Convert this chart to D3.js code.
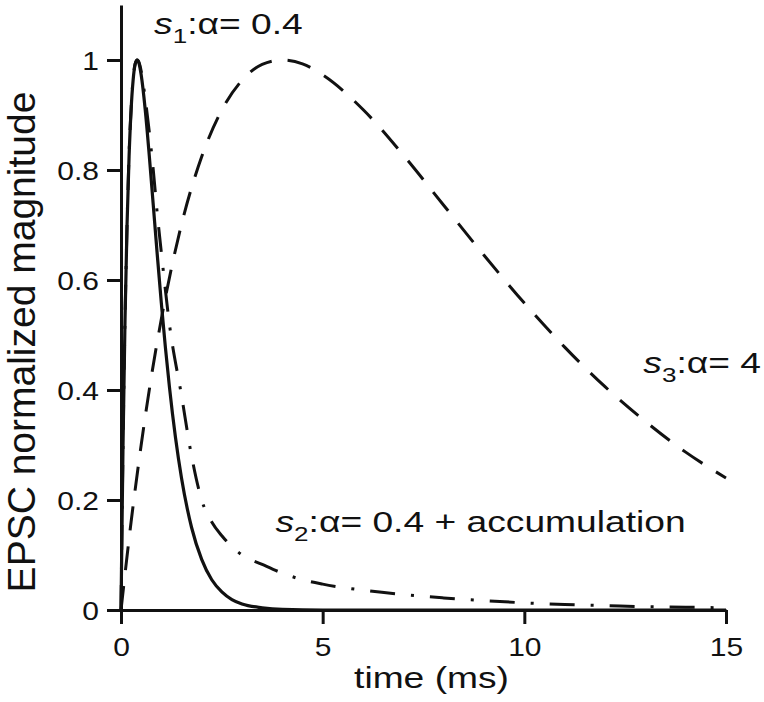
<!DOCTYPE html>
<html><head><meta charset="utf-8">
<script src="https://cdn.jsdelivr.net/npm/d3@7"></script>
<style>body{margin:0;background:#fff}svg{display:block}</style>
</head><body>
<svg id="chart" width="764" height="702"></svg>
<script>
// ---- data ----
const s1Time   = [0,0.05,0.1,0.15,0.2,0.25,0.3,0.35,0.4,0.45,0.5,0.6,0.7,0.8,0.9,1.0,1.1,1.2,1.35,1.5,1.75,2.0,2.25,2.5,2.75,3.0,3.5,4.0,5,6,8,10,12,15];
const s1Values = [0,0.300,0.529,0.701,0.824,0.909,0.963,0.992,1,0.993,0.973,0.910,0.827,0.736,0.645,0.558,0.478,0.406,0.314,0.240,0.150,0.092,0.055,0.033,0.019,0.011,0.004,0.001,0,0,0,0,0,0];

const s2Time   = [0,0.05,0.1,0.15,0.2,0.25,0.3,0.35,0.4,0.45,0.5,0.6,0.7,0.8,0.9,1.0,1.2,1.5,1.75,2.0,2.25,2.5,3.0,3.5,4,4.5,5,6,7,8,9,10,11,12,13,14,15];
const s2Values = [0,0.30,0.53,0.70,0.83,0.91,0.965,0.993,1.0,0.995,0.98,0.93,0.87,0.80,0.72,0.65,0.52,0.39,0.28,0.20,0.16,0.135,0.10,0.083,0.067,0.055,0.047,0.036,0.028,0.022,0.017,0.013,0.010,0.008,0.006,0.005,0.004];

const s3Time   = [0,0.25,0.5,0.75,1,1.5,2,2.5,3,3.5,4,4.5,5,6,7,8,9,10,11,12,13,14,15];
const s3Values = [0,0.160,0.300,0.423,0.529,0.701,0.824,0.909,0.963,0.992,1,0.993,0.973,0.910,0.827,0.736,0.645,0.558,0.478,0.406,0.343,0.287,0.240];

const xTicks = [0,5,10,15];
const xTickLabels = ["0","5","10","15"];
const yTicks = [0,0.2,0.4,0.6,0.8,1];
const yTickLabels = ["0","0.2","0.4","0.6","0.8","1"];

const xTitle = "time (ms)";
const yTitle = "EPSC normalized magnitude";
const labels = [
  {sub:"1", rest:":\u03b1= 0.4", t:0.82, v:1.047},
  {sub:"2", rest:":\u03b1= 0.4 + accumulation", t:3.83, v:0.141},
  {sub:"3", rest:":\u03b1= 4", t:12.95, v:0.431}
];

// ---- drawing ----
const svg = d3.select("#chart");
const FONT = "'Liberation Sans', Arial, Helvetica, sans-serif";
const SX = 1.24;
const x = d3.scaleLinear().domain([0,15]).range([121,726]);
const y = d3.scaleLinear().domain([0,1.1]).range([610,5]);

const ink = "#111";

const xAxis = d3.axisBottom(x).tickValues(xTicks).tickFormat((d,i)=>xTickLabels[i]).tickSize(14).tickSizeOuter(0).tickPadding(0);
const yAxis = d3.axisLeft(y).tickValues(yTicks).tickFormat((d,i)=>yTickLabels[i]).tickSize(14).tickSizeOuter(0).tickPadding(0);

const gx = svg.append("g").attr("transform","translate(0,610)").call(xAxis);
const gy = svg.append("g").attr("transform","translate(121,0)").call(yAxis);

[gx,gy].forEach(g=>{
  g.select(".domain").attr("stroke",ink).attr("stroke-width",3);
  g.selectAll(".tick line").attr("stroke",ink).attr("stroke-width",3);
  g.selectAll(".tick text").attr("fill",ink).style("font-family",FONT).style("font-size","25px");
});
gx.selectAll(".tick text").attr("y",null).attr("dy",null)
  .attr("text-anchor","middle")
  .attr("transform","translate(0,46) scale(1.2,1)");
gy.selectAll(".tick text").attr("x",null).attr("dy",null)
  .attr("text-anchor","end")
  .attr("transform","translate(-22,9) scale(1.2,1)");

const line = d3.line().x(d=>x(d[0])).y(d=>y(d[1])).curve(d3.curveMonotoneX);

svg.append("path").datum(d3.zip(s3Time,s3Values)).attr("d",line)
  .attr("fill","none").attr("stroke",ink).attr("stroke-width",3)
  .attr("stroke-dasharray","24,16");
svg.append("path").datum(d3.zip(s2Time,s2Values)).attr("d",line)
  .attr("fill","none").attr("stroke",ink).attr("stroke-width",3)
  .attr("stroke-dasharray","25,16,3,16");
svg.append("path").datum(d3.zip(s1Time,s1Values)).attr("d",line)
  .attr("fill","none").attr("stroke",ink).attr("stroke-width",3.2);

// titles
svg.append("text").attr("transform",`translate(${(x(0)+x(15))/2+8},688) scale(${SX},1)`)
  .attr("text-anchor","middle").style("font-family",FONT).style("font-size","30px")
  .attr("fill",ink).text(xTitle);
svg.append("text").attr("transform","translate(35,342) rotate(-90)")
  .attr("text-anchor","middle").style("font-family",FONT).style("font-size","39px")
  .attr("fill",ink).text(yTitle);

// curve labels
labels.forEach(l=>{
  const t = svg.append("text")
    .attr("transform",`translate(${x(l.t)},${y(l.v)}) scale(${SX},1)`)
    .style("font-family",FONT).style("font-size","30px").attr("fill",ink);
  t.append("tspan").style("font-style","italic").text("s");
  t.append("tspan").style("font-size","21px").attr("dy",9).text(l.sub);
  t.append("tspan").attr("dy",-9).text(l.rest);
});
</script>
</body></html>
